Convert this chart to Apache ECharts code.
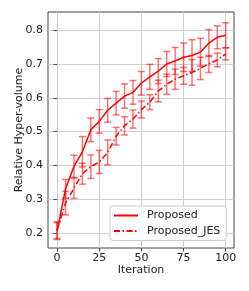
<!DOCTYPE html>
<html><head><meta charset="utf-8">
<script src="https://cdn.jsdelivr.net/npm/echarts@6/dist/echarts.min.js"></script>
<style>html,body{margin:0;padding:0;background:#fff}#c{width:249px;height:291px}</style>
</head><body><div id="c"></div>
<script>
var iterations = [0,5,10,15,20,25,30,35,40,45,50,55,60,65,70,75,80,85,90,95,100];
var proposedMean = [0.205,0.33,0.397,0.44,0.505,0.53,0.563,0.584,0.605,0.616,0.643,0.662,0.679,0.70,0.709,0.72,0.725,0.735,0.762,0.779,0.785];
var proposedErr  = [0.025,0.028,0.033,0.045,0.035,0.035,0.035,0.035,0.036,0.035,0.035,0.037,0.037,0.037,0.040,0.042,0.047,0.041,0.040,0.034,0.037];
var jesMean = [0.208,0.288,0.332,0.375,0.396,0.41,0.438,0.486,0.517,0.537,0.565,0.587,0.62,0.64,0.655,0.665,0.675,0.687,0.70,0.712,0.73];
var jesErr  = [0.025,0.035,0.030,0.031,0.035,0.034,0.037,0.026,0.027,0.027,0.025,0.022,0.032,0.030,0.030,0.025,0.038,0.033,0.025,0.020,0.018];
var xTicks = [0,25,50,75,100];
var yTicks = [0.2,0.3,0.4,0.5,0.6,0.7,0.8];
var seriesNames = ['Proposed','Proposed_JES'];

function pairs(xs, ys){ return xs.map(function(x,i){return [x, ys[i]];}); }
function bars(xs, m, e){ return xs.map(function(x,i){return [x, m[i]-e[i], m[i]+e[i]];}); }
function errRender(params, api){
  var x = api.value(0);
  var lo = api.coord([x, api.value(1)]);
  var hi = api.coord([x, api.value(2)]);
  var w = 3.5;
  var st = {stroke:'rgba(255,0,0,0.55)', lineWidth:1.5};
  return {type:'group', children:[
    {type:'line', shape:{x1:lo[0],y1:lo[1],x2:hi[0],y2:hi[1]}, style:st},
    {type:'line', shape:{x1:lo[0]-w,y1:lo[1],x2:lo[0]+w,y2:lo[1]}, style:st},
    {type:'line', shape:{x1:hi[0]-w,y1:hi[1],x2:hi[0]+w,y2:hi[1]}, style:st}
  ]};
}
var font = 'DejaVu Sans';
var chart = echarts.init(document.getElementById('c'), null, {renderer:'canvas'});
chart.setOption({
  animation:false,
  backgroundColor:'#fff',
  grid:{left:48, right:15, top:12, bottom:43, show:true, borderColor:'#444', borderWidth:1},
  xAxis:{type:'value', min:-5.4, max:104.9,
    name:'Iteration', nameLocation:'middle', nameGap:16.5, nameMoveOverlap:false,
    nameTextStyle:{fontFamily:font, fontSize:11, color:'#222', verticalAlign:'top'},
    axisLine:{show:false},
    axisTick:{show:true, customValues:xTicks, length:3.5, lineStyle:{color:'#444'}},
    axisLabel:{customValues:xTicks, fontFamily:font, fontSize:11, color:'#222', margin:5},
    splitLine:{show:true, lineStyle:{color:'#cfcfcf', width:1}}},
  yAxis:{type:'value', min:0.155, max:0.854,
    name:'Relative Hyper-volume', nameLocation:'middle', nameGap:23, nameMoveOverlap:false,
    nameTextStyle:{fontFamily:font, fontSize:11, color:'#222'},
    axisLine:{show:false},
    axisTick:{show:true, customValues:yTicks, length:3.5, lineStyle:{color:'#444'}},
    axisLabel:{customValues:yTicks, fontFamily:font, fontSize:11, color:'#222', margin:5,
      formatter:function(v){return v.toFixed(1);}},
    splitLine:{show:true, lineStyle:{color:'#cfcfcf', width:1}}},
  legend:{data:seriesNames, orient:'vertical', left:110, top:206,
    backgroundColor:'rgba(255,255,255,0.85)', borderColor:'#cccccc', borderWidth:1, borderRadius:3,
    padding:[4,6,4,3], itemWidth:24, itemHeight:12, itemGap:4.5,
    itemStyle:{color:'transparent', borderWidth:0, opacity:0},
    textStyle:{fontFamily:font, fontSize:11, color:'#222', padding:[0,0,0,4]}},
  series:[
    {name:seriesNames[0], type:'line', data:pairs(iterations, proposedMean), symbol:'none',
      lineStyle:{color:'#ff0000', width:1.5}, itemStyle:{color:'#ff0000'}, z:3},
    {name:seriesNames[1], type:'line', data:pairs(iterations, jesMean), symbol:'none',
      lineStyle:{color:'#ff0000', width:1.5, type:[6,2.5,1.5,2.5]}, itemStyle:{color:'#ff0000'}, z:3},
    {name:'errP', type:'custom', renderItem:errRender, data:bars(iterations, proposedMean, proposedErr), z:2},
    {name:'errJ', type:'custom', renderItem:errRender, data:bars(iterations, jesMean, jesErr), z:2}
  ]
});
</script></body></html>
